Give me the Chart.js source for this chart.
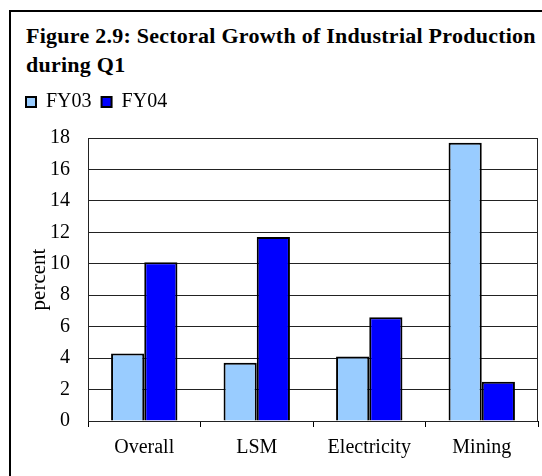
<!DOCTYPE html>
<html>
<head>
<meta charset="utf-8">
<script src="https://cdn.jsdelivr.net/npm/chart.js@4"></script>
<style>
  html, body { margin: 0; padding: 0; background: #fff; overflow: hidden; }
  #wrap { position: relative; width: 542px; height: 476px; }
  #frame { position: absolute; left: 9px; top: 10px; width: 600px; height: 600px; border: 2px solid #000; box-sizing: border-box; }
  #title { position: absolute; left: 26px; top: 22px; font-family: "Liberation Serif", "Times New Roman", serif; font-weight: bold; font-size: 22px; line-height: 28.5px; letter-spacing: 0.25px; color: #000; white-space: nowrap; }
  canvas { position: absolute; left: 0; top: 0; }
</style>
</head>
<body>
<div id="wrap">
  <div id="frame"></div>
  <div id="title">Figure 2.9: Sectoral Growth of Industrial Production<br>during Q1</div>
  <canvas id="c" width="542" height="476"></canvas>
</div>
<script>
const categories = ["Overall", "LSM", "Electricity", "Mining"];
const seriesNames = ["FY03", "FY04"];
const fy03 = [4.3, 3.7, 4.1, 17.7];
const fy04 = [10.1, 11.7, 6.6, 2.5];
const yTicks = [0, 2, 4, 6, 8, 10, 12, 14, 16, 18];
const yAxisTitle = "percent";

const serif = "'Liberation Serif', 'Times New Roman', serif";

const frameBorder = {
  id: 'frameBorder',
  afterDatasetsDraw(chart) {
    const { ctx, chartArea: a } = chart;
    ctx.save();
    ctx.strokeStyle = '#222';
    ctx.lineWidth = 1;
    ctx.strokeRect(Math.round(a.left) + 0.5, Math.round(a.top) + 0.5, Math.round(a.right - a.left) - 1, Math.round(a.bottom - a.top));
    ctx.restore();
  }
};

new Chart(document.getElementById('c'), {
  type: 'bar',
  data: {
    labels: categories,
    datasets: [
      { label: seriesNames[0], data: fy03, backgroundColor: '#99CCFF', borderColor: '#000', borderWidth: 2, borderSkipped: 'bottom' },
      { label: seriesNames[1], data: fy04, backgroundColor: '#0000FF', borderColor: '#000', borderWidth: 2, borderSkipped: 'bottom' }
    ]
  },
  options: {
    responsive: false,
    animation: false,
    devicePixelRatio: 1,
    layout: { padding: { top: 82, left: 16, right: 4, bottom: 0 } },
    datasets: { bar: { barPercentage: 1, categoryPercentage: 0.59 } },
    plugins: {
      title: { display: false },
      subtitle: { display: true, text: ' ', weight: 500, position: 'top', font: { size: 10, lineHeight: 1 }, padding: { top: 0, bottom: 6 } },
      legend: {
        display: true,
        position: 'top',
        align: 'start',
        labels: {
          boxWidth: 10, boxHeight: 10, padding: 10,
          color: '#000',
          font: { family: serif, size: 20 },
          generateLabels(chart) {
            return chart.data.datasets.map((d, i) => ({
              text: d.label, fillStyle: d.backgroundColor, strokeStyle: '#000', lineWidth: 2, hidden: false, datasetIndex: i, fontColor: '#000'
            }));
          }
        }
      },
      tooltip: { enabled: false }
    },
    scales: {
      x: {
        offset: true,
        grid: { display: true, drawOnChartArea: false, drawTicks: true, tickLength: 6, color: '#000', offset: true },
        border: { display: true, color: '#000', width: 1 },
        ticks: { color: '#000', font: { family: serif, size: 20 }, padding: 9, maxRotation: 0 },
        afterFit(s) { s.height = 55; }
      },
      y: {
        min: 0, max: 18,
        afterBuildTicks(s) { s.ticks = yTicks.map(v => ({ value: v })); },
        grid: { color: '#222', lineWidth: 1, drawTicks: false },
        border: { display: true, color: '#222', width: 1 },
        ticks: { color: '#000', font: { family: serif, size: 20 }, padding: 18 },
        title: { display: true, text: yAxisTitle, color: '#000', font: { family: serif, size: 21 }, padding: { top: 11, bottom: 0 } },
        afterFit(s) { s.width = 72; }
      }
    }
  },
  plugins: [frameBorder]
});
</script>
</body>
</html>
